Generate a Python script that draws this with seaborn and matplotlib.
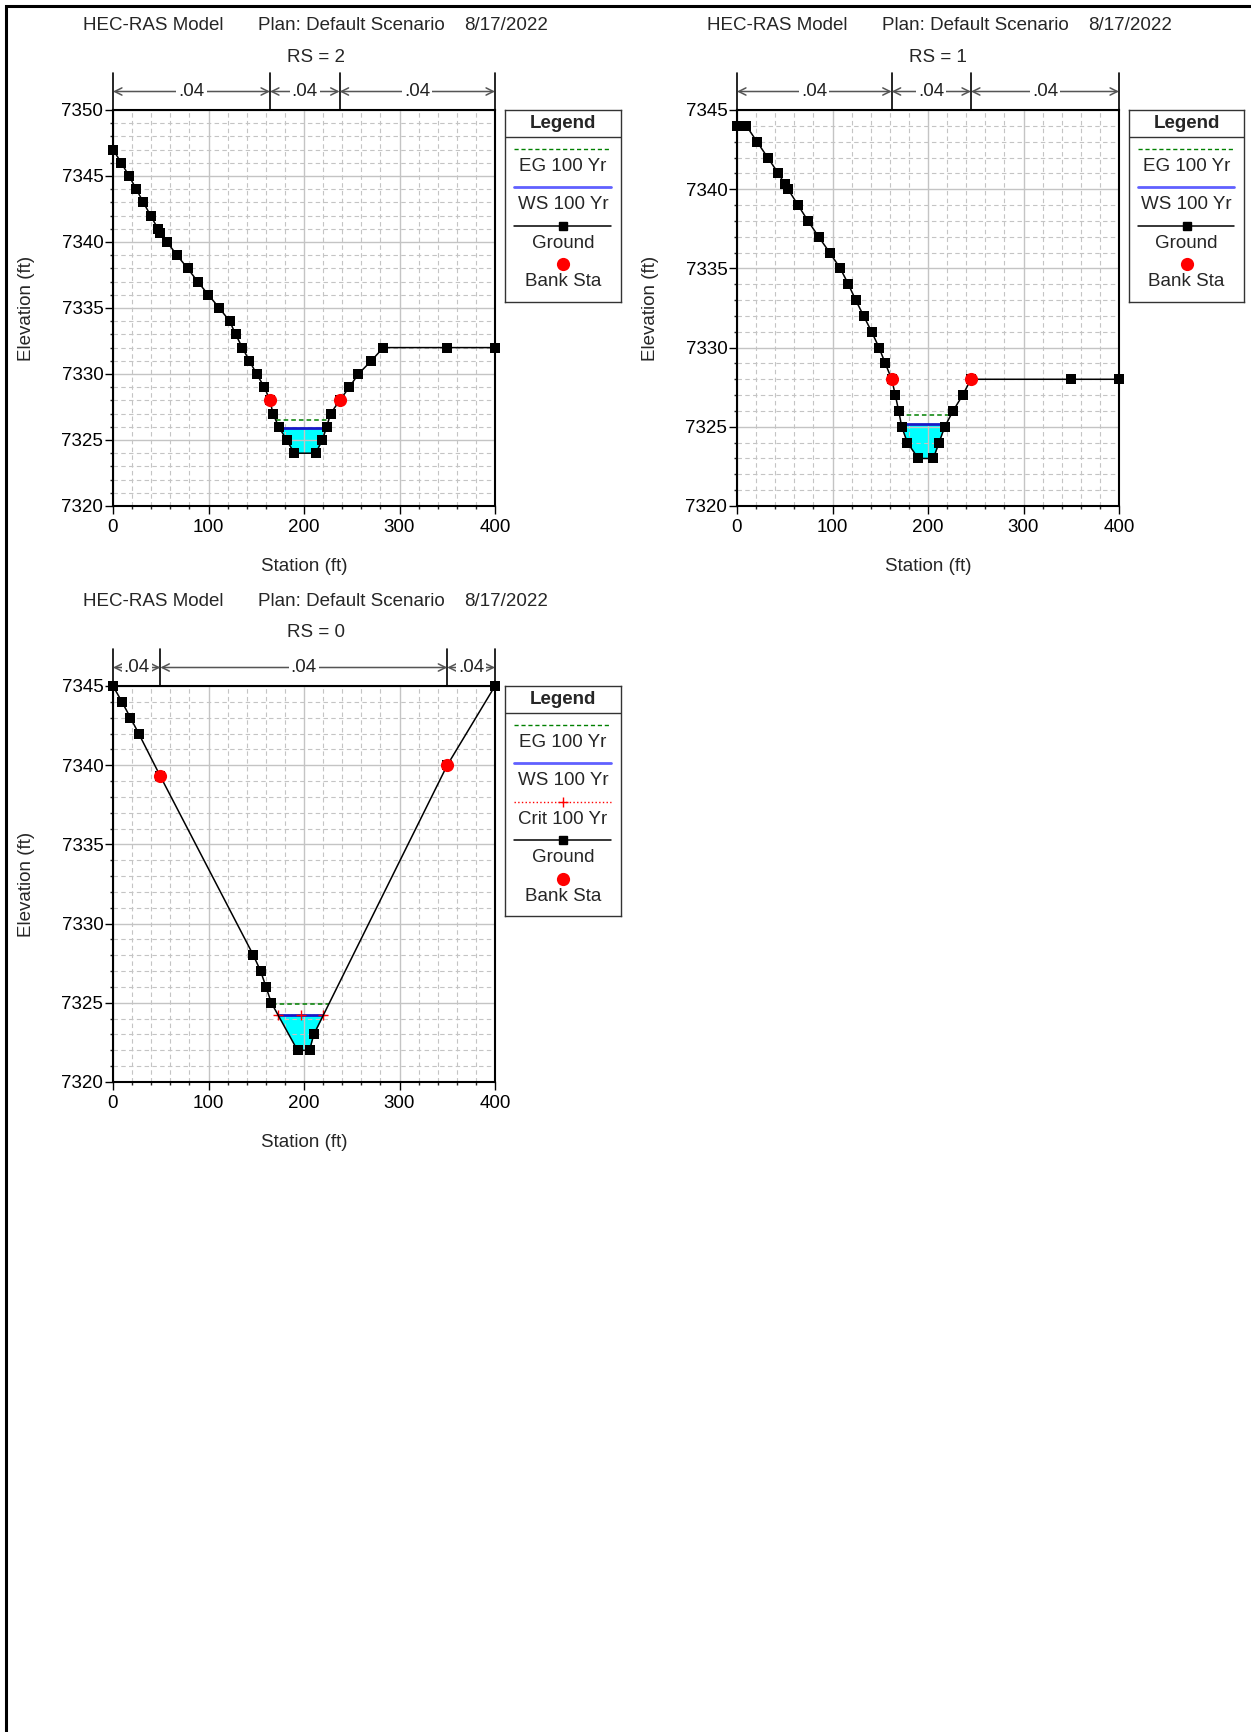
import numpy as np
import pandas as pd
import seaborn as sns
import matplotlib.pyplot as plt
from matplotlib.ticker import MultipleLocator
from matplotlib.patches import Rectangle

# cross section data
sta_rs2 = [0, 8.7, 16.8, 24.4, 31.8, 39.4, 47.1, 49.6, 56.5, 67, 78.2, 88.7, 99.8,
           111.3, 122.2, 128.4, 135.4, 142.8, 150.4, 158.5, 164.4, 167.5, 173.5,
           181.8, 189.9, 212.2, 219.2, 223.7, 227.9, 237.3, 247.5, 256.9, 270.5,
           283, 350, 400]
elev_rs2 = [7347, 7346, 7345, 7344, 7343, 7342, 7341, 7340.7, 7340, 7339, 7338,
            7337, 7336, 7335, 7334, 7333, 7332, 7331, 7330, 7329, 7328, 7327, 7326,
            7325, 7324, 7324, 7325, 7326, 7327, 7328, 7329, 7330, 7331, 7332, 7332,
            7332]
banks_rs2 = [164.4, 237.3]
ws_rs2 = 7325.9
eg_rs2 = 7326.5

sta_rs1 = [0, 9.8, 20.9, 32.1, 43.3, 50.3, 53.4, 63.9, 74.3, 85.5, 97, 108.2,
           116.6, 124.3, 132.6, 141, 148.7, 155.3, 162, 165.8, 169.3, 172.5, 178.4,
           189.9, 205.6, 211.5, 217.5, 226.2, 236.3, 245, 350, 400]
elev_rs1 = [7344, 7344, 7343, 7342, 7341, 7340.3, 7340, 7339, 7338, 7337, 7336,
            7335, 7334, 7333, 7332, 7331, 7330, 7329, 7328, 7327, 7326, 7325, 7324,
            7323, 7323, 7324, 7325, 7326, 7327, 7328, 7328, 7328]
banks_rs1 = [162, 245]
ws_rs1 = 7325.2
eg_rs1 = 7325.75

sta_rs0 = [0, 9.4, 18.2, 26.9, 49.6, 147, 154.6, 160.2, 165.8, 193.2, 205.8,
           210.2, 350, 400]
elev_rs0 = [7345, 7344, 7343, 7342, 7339.3, 7328, 7327, 7326, 7325, 7322, 7322,
            7323, 7340, 7345]
banks_rs0 = [49.6, 350]
ws_rs0 = 7324.2
eg_rs0 = 7324.9
crit_rs0 = 7324.2

n_values = [".04", ".04", ".04"]
title_parts = ["HEC-RAS Model", "Plan: Default Scenario", "8/17/2022"]

W, H = 1251, 1732
FS = 13.5

sns.set_style("white")
plt.rcParams["font.family"] = ["Liberation Sans", "DejaVu Sans"]

fig = plt.figure(figsize=(W / 100, H / 100), dpi=100)


def px_axes(l, t, r, b):
    return fig.add_axes([l / W, 1 - b / H, (r - l) / W, (b - t) / H])


def wet_limits(sta, elev, wse):
    sta = np.asarray(sta, float)
    elev = np.asarray(elev, float)
    idx = np.where(elev < wse)[0]
    i0, i1 = idx[0], idx[-1]
    left = np.interp(wse, [elev[i0], elev[i0 - 1]], [sta[i0], sta[i0 - 1]])
    right = np.interp(wse, [elev[i1], elev[i1 + 1]], [sta[i1], sta[i1 + 1]])
    return left, right


def draw_section(ax, sta, elev, banks, ws, eg, ytop, crit=None):
    df = pd.DataFrame({"Station": sta, "Elevation": elev})
    elev_arr = np.asarray(elev, float)
    ax.fill_between(sta, elev, ws, where=elev_arr <= ws, interpolate=True,
                    color="#00ffff", lw=0, zorder=0.3)
    el, er = wet_limits(sta, elev, eg)
    ax.hlines(eg, el, er, color="#008000", lw=1.1, ls=(0, (3, 2)), zorder=2)
    wl, wr = wet_limits(sta, elev, ws)
    if crit is not None:
        ax.hlines(crit, wl - 2, wr + 2, color="red", lw=1, ls=":", zorder=2)
    ax.hlines(ws, wl, wr, color="#1818c8", lw=2, zorder=2.5)
    if crit is not None:
        ax.scatter([wl, (wl + wr) / 2, wr], [crit] * 3, marker="+", color="red",
                   s=60, lw=1, zorder=3)
    sns.lineplot(data=df, x="Station", y="Elevation", sort=False, estimator=None,
                 color="black", lw=1.1, ax=ax, legend=False, zorder=3)
    sns.scatterplot(data=df, x="Station", y="Elevation", marker="s", s=44,
                    color="black", linewidth=0, ax=ax, legend=False, zorder=4,
                    clip_on=False)
    bank_elev = np.interp(banks, sta, elev)
    sns.scatterplot(x=banks, y=bank_elev, color="red", s=90, linewidth=0, ax=ax,
                    legend=False, zorder=5, clip_on=False)

    ax.set_xlim(0, 400)
    ax.set_ylim(7320, ytop)
    ax.xaxis.set_major_locator(MultipleLocator(100))
    ax.xaxis.set_minor_locator(MultipleLocator(20))
    ax.yaxis.set_major_locator(MultipleLocator(5))
    ax.yaxis.set_minor_locator(MultipleLocator(1))
    ax.set_axisbelow(True)
    ax.grid(which="major", color="#c4c4c4", lw=1, ls="-")
    ax.grid(which="minor", color="#c4c4c4", lw=0.8, ls=(0, (4, 3)))
    ax.tick_params(which="major", direction="out", length=5.5, width=1,
                   labelsize=FS, pad=1.5, colors="black", left=True, bottom=True)
    ax.tick_params(axis="x", which="major", pad=4)
    ax.tick_params(which="minor", direction="out", length=2.5, width=1,
                   left=True, bottom=True)
    for s in ax.spines.values():
        s.set_color("black")
        s.set_linewidth(1.5)
    ax.set_xlabel("Station (ft)", fontsize=FS)
    ax.set_ylabel("Elevation (ft)", fontsize=FS)
    ax.xaxis.set_label_coords(0.5, -52 / 396)
    ax.yaxis.set_label_coords(-78 / 382, 0.5)

    # Manning's n reaches above the plot
    bounds = [0] + list(banks) + [400]
    trans = ax.get_xaxis_transform()
    for b in bounds:
        ax.plot([b, b], [1, 1 + 37 / 396], transform=trans, color="black",
                lw=1.2, clip_on=False)
    ya = 1 + 18.5 / 396
    for (a, b), lab in zip(zip(bounds[:-1], bounds[1:]), n_values):
        ax.annotate("", xy=(a, ya), xytext=(b, ya), xycoords=trans,
                    textcoords=trans,
                    arrowprops=dict(arrowstyle="<->", color="#555555", lw=1.1,
                                    shrinkA=0, shrinkB=0, mutation_scale=13))
        ax.text((a + b) / 2, ya, lab, transform=trans, ha="center", va="center",
                fontsize=FS, color="#222222",
                bbox=dict(fc="white", ec="none", pad=1.5))


def draw_legend(l, t, r, b, items):
    lax = px_axes(l, t, r, b)
    w, h = r - l, b - t
    lax.set_xlim(0, w)
    lax.set_ylim(h, 0)
    lax.set_xticks([])
    lax.set_yticks([])
    for s in lax.spines.values():
        s.set_color("#333333")
        s.set_linewidth(1)
    lax.text(w / 2, 13, "Legend", ha="center", va="center", fontsize=FS,
             weight="bold")
    lax.axhline(27, color="#333333", lw=1)
    x0, x1 = 9, w - 10
    for i, (kind, label) in enumerate(items):
        yl = 39 + 38.4 * i
        if kind == "eg":
            lax.plot([x0, x1], [yl, yl], color="#008000", lw=1, ls=(0, (3, 2)))
        elif kind == "ws":
            lax.plot([x0, x1], [yl, yl], color="#6060ff", lw=2)
        elif kind == "crit":
            lax.plot([x0, x1], [yl, yl], color="red", lw=1, ls=":")
            lax.plot([w / 2], [yl], marker="+", color="red", ms=7, mew=1)
        elif kind == "ground":
            lax.plot([x0, x1], [yl, yl], color="black", lw=1.1)
            lax.plot([w / 2], [yl], marker="s", color="black", ms=6)
        elif kind == "bank":
            lax.plot([w / 2], [yl], marker="o", color="red", ms=9.5, mew=0)
        lax.text(w / 2, yl + 17.5, label, ha="center", va="center", fontsize=FS)


def draw_titles(x0, y_title, x_rs, y_rs, rs):
    offs = [0, 175, 381]
    for o, txt in zip(offs, title_parts):
        fig.text((x0 + o) / W, 1 - y_title / H, txt, ha="left", va="center",
                 fontsize=FS)
    fig.text(x_rs / W, 1 - y_rs / H, rs, ha="center", va="center", fontsize=FS)


base_items = [("eg", "EG 100 Yr"), ("ws", "WS 100 Yr"), ("ground", "Ground"),
              ("bank", "Bank Sta")]
crit_items = [("eg", "EG 100 Yr"), ("ws", "WS 100 Yr"), ("crit", "Crit 100 Yr"),
              ("ground", "Ground"), ("bank", "Bank Sta")]

ax1 = px_axes(113, 110, 495, 506)
draw_section(ax1, sta_rs2, elev_rs2, banks_rs2, ws_rs2, eg_rs2, 7350)
draw_legend(505, 110, 621, 302, base_items)
draw_titles(83, 26, 316, 58, "RS = 2")

ax2 = px_axes(737, 110, 1119, 506)
draw_section(ax2, sta_rs1, elev_rs1, banks_rs1, ws_rs1, eg_rs1, 7345)
draw_legend(1129, 110, 1244, 302, base_items)
draw_titles(707, 26, 938, 58, "RS = 1")

ax3 = px_axes(113, 686, 495, 1082)
draw_section(ax3, sta_rs0, elev_rs0, banks_rs0, ws_rs0, eg_rs0, 7345, crit=crit_rs0)
draw_legend(505, 686, 621, 916, crit_items)
draw_titles(83, 602, 316, 633, "RS = 0")

# page frame (only top and left edges fall inside the picture)
fig.add_artist(Rectangle((6 / W, -0.05), 1.2, 1.05 - 6 / H, fill=False,
                         lw=2.2, ec="black", transform=fig.transFigure,
                         clip_on=False))

fig.savefig("out.png", dpi=100)
